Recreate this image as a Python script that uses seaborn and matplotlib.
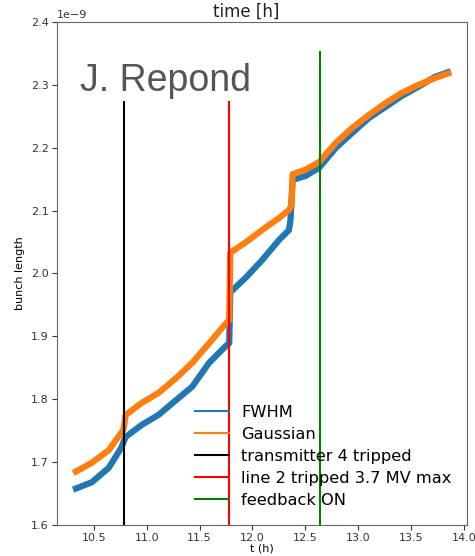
import numpy as np
import pandas as pd
import matplotlib
matplotlib.use("Agg")
import matplotlib.pyplot as plt
import seaborn as sns
from matplotlib.lines import Line2D

# ---- data (bunch length in ns, time in h) ----
t_fwhm = [10.33, 10.48, 10.64, 10.755, 10.80, 10.95, 11.11, 11.28, 11.43, 11.59,
          11.75, 11.78, 11.79, 11.94, 12.09, 12.25, 12.345, 12.36, 12.38, 12.50,
          12.63, 12.79, 12.94, 13.10, 13.26, 13.41, 13.57, 13.73, 13.85]
v_fwhm = [1.658, 1.668, 1.691, 1.722, 1.740, 1.759, 1.775, 1.799, 1.820, 1.858,
          1.885, 1.889, 1.970, 1.994, 2.021, 2.053, 2.069, 2.085, 2.149, 2.155,
          2.168, 2.200, 2.223, 2.247, 2.265, 2.282, 2.297, 2.313, 2.320]

t_gauss = [10.33, 10.48, 10.64, 10.755, 10.78, 10.80, 10.95, 11.11, 11.28, 11.43,
           11.59, 11.75, 11.78, 11.79, 11.94, 12.09, 12.25, 12.345, 12.37, 12.38,
           12.50, 12.63, 12.79, 12.94, 13.10, 13.26, 13.41, 13.57, 13.73, 13.85]
v_gauss = [1.685, 1.699, 1.719, 1.746, 1.752, 1.775, 1.794, 1.810, 1.834, 1.858,
           1.889, 1.921, 1.926, 2.033, 2.050, 2.069, 2.088, 2.101, 2.108, 2.158,
           2.165, 2.177, 2.208, 2.231, 2.252, 2.271, 2.287, 2.300, 2.311, 2.318]

series_names = ["FWHM", "Gaussian"]
event_labels = ["transmitter 4 tripped", "line 2 tripped 3.7 MV max", "feedback ON"]
event_times = [10.78, 11.78, 12.635]
event_tops = [2.274, 2.274, 2.354]
event_colors = ["black", "red", "green"]

df = pd.concat([
    pd.DataFrame({"t": t_fwhm, "v": np.array(v_fwhm) * 1e-9, "series": series_names[0]}),
    pd.DataFrame({"t": t_gauss, "v": np.array(v_gauss) * 1e-9, "series": series_names[1]}),
], ignore_index=True)

fig = plt.figure(figsize=(4.75, 5.56), dpi=100)
ax = fig.add_axes([0.12, 0.0558, 0.863, 0.9046])

palette = {"FWHM": "#1f77b4", "Gaussian": "#ff7f0e"}
sns.lineplot(data=df, x="t", y="v", hue="series", palette=palette, estimator=None,
             sort=False, linewidth=4.5, ax=ax, legend=False)

for tt, top, col in zip(event_times, event_tops, event_colors):
    ax.vlines(tt, 1.5e-9, top * 1e-9, colors=col, linewidth=1.5)

ax.set_xlim(10.15, 14.03)
ax.set_ylim(1.6e-9, 2.4e-9)
ax.set_xticks([10.5, 11.0, 11.5, 12.0, 12.5, 13.0, 13.5, 14.0])
ax.tick_params(labelsize=8, colors="#333333", pad=2.5)
ax.yaxis.get_offset_text().set_fontsize(8)
ax.set_xlabel("t (h)", fontsize=8, labelpad=0)
ax.set_ylabel("bunch length", fontsize=8)
for s in ax.spines.values():
    s.set_color("#666666")
ax.set_title("time [h]", fontsize=12, x=0.461, pad=4, color="#222222")

ax.text(0.056, 0.863, "J. Repond", transform=ax.transAxes, fontsize=27,
        family="Liberation Sans", color="#555555", va="baseline")

handles = [Line2D([], [], color=palette["FWHM"], lw=1.5),
           Line2D([], [], color=palette["Gaussian"], lw=1.5)]
handles += [Line2D([], [], color=c, lw=1.5) for c in event_colors]
ax.legend(handles, series_names + event_labels, loc="upper left",
          bbox_to_anchor=(0.302, 0.268), frameon=False, fontsize=11.7,
          handlelength=2.05, handletextpad=0.75, labelspacing=0.43)

fig.savefig("out.png", dpi=100)
